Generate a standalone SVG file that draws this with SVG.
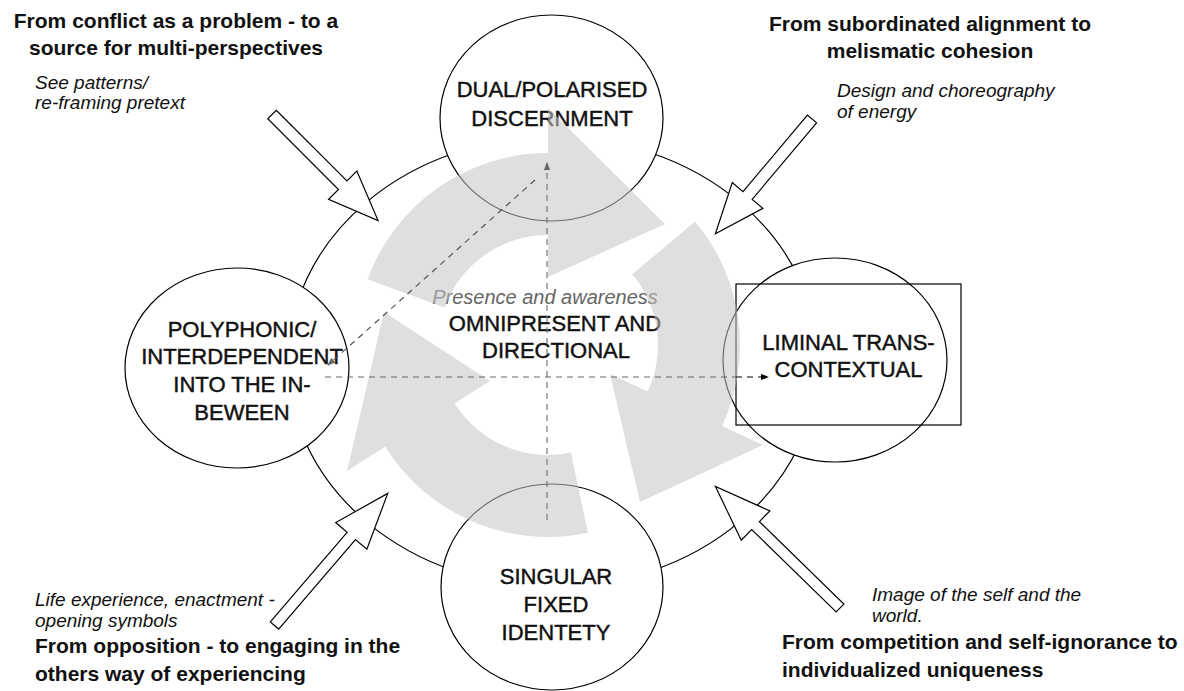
<svg xmlns="http://www.w3.org/2000/svg" width="1184" height="691" viewBox="0 0 1184 691">
  <style>
    .ring { fill: none; stroke: #000; stroke-width: 1.2; }
    .node { fill: #fff; stroke: #000; stroke-width: 1.2; }
    .frame { fill: none; stroke: #000; stroke-width: 1.2; }
    .cycle { fill: #c4c4c4; fill-opacity: 0.55; stroke: none; }
    .push { fill: #fff; stroke: #000; stroke-width: 1.2; stroke-linejoin: miter; }
    .dash { fill: none; stroke-width: 1.2; stroke-dasharray: 6 5; }
    .lbl { font-family: "Liberation Sans", Arial, sans-serif; font-size: 22px; fill: #111; stroke: #111; stroke-width: 0.45; text-anchor: middle; }
    .head { font-family: "Liberation Sans", Arial, sans-serif; font-size: 21px; font-weight: bold; fill: #111; }
    .note { font-family: "Liberation Sans", Arial, sans-serif; font-size: 19px; font-style: italic; fill: #111; }
    .sub { font-family: "Liberation Sans", Arial, sans-serif; font-size: 20px; font-style: italic; fill: #666; text-anchor: middle; }
  </style>
  <defs>
    <marker id="tipGray" viewBox="0 0 10 10" refX="9" refY="5" markerWidth="8" markerHeight="8" markerUnits="userSpaceOnUse" orient="auto">
      <path d="M0,1 L10,5 L0,9 Z" fill="#666"/>
    </marker>
    <marker id="tipBlack" viewBox="0 0 10 10" refX="9" refY="5" markerWidth="8" markerHeight="8" markerUnits="userSpaceOnUse" orient="auto">
      <path d="M0,1 L10,5 L0,9 Z" fill="#000"/>
    </marker>
    <path id="pushShort" d="M0,-6 H100 V-20 L150,0 L100,20 V6 H0 Z"/>
    <path id="pushLong" d="M0,-5.5 H118 V-20.5 L174,0 L118,20.5 V5.5 H0 Z"/>
  </defs>

  <!-- outer orbit -->
  <g id="orbit">
    <ellipse class="ring" cx="553" cy="362" rx="265" ry="225"/>
  </g>

  <!-- stage nodes -->
  <g id="node-dual">
    <ellipse class="node" cx="551.5" cy="118" rx="111.5" ry="103"/>
    <text class="lbl" x="552" y="97">DUAL/POLARISED</text>
    <text class="lbl" x="552" y="126">DISCERNMENT</text>
  </g>
  <g id="node-polyphonic">
    <ellipse class="node" cx="237" cy="368" rx="112" ry="100"/>
    <text class="lbl" x="242" y="337">POLYPHONIC/</text>
    <text class="lbl" x="242" y="364">INTERDEPENDENT</text>
    <text class="lbl" x="242" y="392">INTO THE IN-</text>
    <text class="lbl" x="242" y="420">BEWEEN</text>
  </g>
  <g id="node-liminal">
    <ellipse class="node" cx="835" cy="360" rx="112" ry="102"/>
    <rect class="frame" x="736" y="284" width="225" height="141"/>
    <text class="lbl" x="848.5" y="350">LIMINAL TRANS-</text>
    <text class="lbl" x="848.5" y="377">CONTEXTUAL</text>
  </g>
  <g id="node-singular">
    <ellipse class="node" cx="552" cy="587" rx="111" ry="103"/>
    <text class="lbl" x="556" y="584">SINGULAR</text>
    <text class="lbl" x="556" y="612">FIXED</text>
    <text class="lbl" x="556" y="640">IDENTETY</text>
  </g>

  <!-- centre -->
  <g id="node-centre">
    <text class="sub" x="545" y="304">Presence and awareness</text>
    <text class="lbl" x="555" y="331">OMNIPRESENT AND</text>
    <text class="lbl" x="556" y="358">DIRECTIONAL</text>
  </g>

  <!-- clockwise cycle of three curved arrows -->
  <g id="cycle">
    <path class="cycle" d="M367.6,279.3 A192,192 0 0 1 548,153 L548,108 L665,224 L548,277 L548,235 A110,110 0 0 0 444.6,307.4 Z"/>
    <path class="cycle" d="M695.1,221.6 A192,192 0 0 1 722,426.1 L763,445 L640,502 L610,374 L647.7,391.5 A110,110 0 0 0 632.3,274.3 Z"/>
    <path class="cycle" d="M587.9,532.8 A192,192 0 0 1 385.2,446.7 L347,471 L384,312 L490,381 L454.7,403.3 A110,110 0 0 0 570.9,452.6 Z"/>
  </g>

  <!-- connectors -->
  <g id="connectors">
    <line class="dash" stroke="#666" x1="325" y1="377" x2="736" y2="377"/>
    <line class="dash" stroke="#000" x1="736" y1="377" x2="768" y2="377" marker-end="url(#tipBlack)"/>
    <line class="dash" stroke="#777" x1="547" y1="520" x2="547" y2="163" marker-end="url(#tipGray)"/>
    <line class="dash" stroke="#555" x1="535" y1="180" x2="328" y2="365" marker-end="url(#tipGray)"/>
  </g>

  <!-- inward pushes -->
  <g id="push-conflict"><use href="#pushShort" class="push" transform="translate(272,114.5) rotate(45)"/></g>
  <g id="push-alignment"><use href="#pushShort" class="push" transform="translate(812,119) rotate(130.1)"/></g>
  <g id="push-opposition"><use href="#pushLong" class="push" transform="translate(274.5,625.5) rotate(-49.4)"/></g>
  <g id="push-competition"><use href="#pushLong" class="push" transform="translate(840,608) rotate(-135.7)"/></g>

  <!-- captions -->
  <g id="caption-top-left">
    <text class="head" x="176" y="28" text-anchor="middle">From conflict as a problem - to a</text>
    <text class="head" x="176" y="55" text-anchor="middle">source for multi-perspectives</text>
    <text class="note" x="35" y="89">See patterns/</text>
    <text class="note" x="35" y="109">re-framing pretext</text>
  </g>
  <g id="caption-top-right">
    <text class="head" x="930" y="31" text-anchor="middle">From subordinated alignment to</text>
    <text class="head" x="930" y="58" text-anchor="middle">melismatic cohesion</text>
    <text class="note" x="837" y="97">Design and choreography</text>
    <text class="note" x="837" y="118">of energy</text>
  </g>
  <g id="caption-bottom-left">
    <text class="note" x="35" y="606">Life experience, enactment -</text>
    <text class="note" x="35" y="627">opening symbols</text>
    <text class="head" x="35" y="653">From opposition - to engaging in the</text>
    <text class="head" x="35" y="681">others way of experiencing</text>
  </g>
  <g id="caption-bottom-right">
    <text class="note" x="872" y="601">Image of the self and the</text>
    <text class="note" x="872" y="622">world.</text>
    <text class="head" x="782" y="649">From competition and self-ignorance to</text>
    <text class="head" x="782" y="677">individualized uniqueness</text>
  </g>
</svg>
